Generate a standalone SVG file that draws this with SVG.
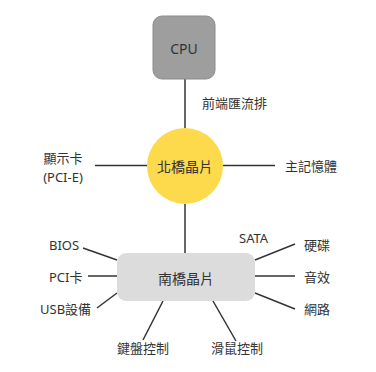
<svg xmlns="http://www.w3.org/2000/svg" width="376" height="372" viewBox="0 0 376 372">
<style>
text{font-family:"Noto Sans","Noto Sans CJK TC",sans-serif;fill:#333;font-size:13px;dominant-baseline:central}
.c{text-anchor:middle}
.n{font-size:14px}
.ln{stroke:#333;stroke-width:1.5;fill:none}
</style>
<rect width="376" height="372" fill="#fff"/>
<g id="connectors">
<line class="ln" x1="185" y1="79" x2="185" y2="128"/>
<line class="ln" x1="95" y1="165.5" x2="147" y2="165.5"/>
<line class="ln" x1="223" y1="165.5" x2="275" y2="165.5"/>
<line class="ln" x1="185" y1="204" x2="185" y2="253"/>
<line class="ln" x1="83" y1="248" x2="117" y2="260"/>
<line class="ln" x1="88" y1="276" x2="117" y2="276"/>
<line class="ln" x1="97" y1="308" x2="117" y2="293"/>
<line class="ln" x1="163" y1="301" x2="143" y2="340"/>
<line class="ln" x1="213" y1="301" x2="236" y2="341"/>
<line class="ln" x1="255" y1="260" x2="295" y2="244"/>
<line class="ln" x1="255" y1="276" x2="295" y2="276"/>
<line class="ln" x1="255" y1="293" x2="295" y2="309"/>
</g>
<g id="cpu">
<rect x="153" y="16" width="62" height="63" rx="9" fill="#9e9e9e" stroke="#8c8c8c" stroke-width="1"/>
<text class="c n" x="184" y="48">CPU</text>
</g>
<g id="northbridge">
<circle cx="185" cy="166" r="38" fill="#fdd94c"/>
<text class="c n" x="185" y="166">北橋晶片</text>
</g>
<g id="southbridge">
<rect x="117" y="253" width="138" height="48" rx="9" fill="#dcdcdc"/>
<text class="c n" x="186" y="278">南橋晶片</text>
</g>
<g id="labels">
<text x="202" y="103">前端匯流排</text>
<text class="c" x="63" y="158">顯示卡</text>
<text class="c" x="63" y="177">(PCI-E)</text>
<text x="285" y="166">主記憶體</text>
<text x="49" y="245">BIOS</text>
<text x="49" y="277">PCI卡</text>
<text x="40" y="309">USB設備</text>
<text class="c" x="143" y="348">鍵盤控制</text>
<text class="c" x="237" y="348">滑鼠控制</text>
<text x="239" y="238">SATA</text>
<text x="304" y="245">硬碟</text>
<text x="304" y="277">音效</text>
<text x="304" y="309">網路</text>
</g>
</svg>
